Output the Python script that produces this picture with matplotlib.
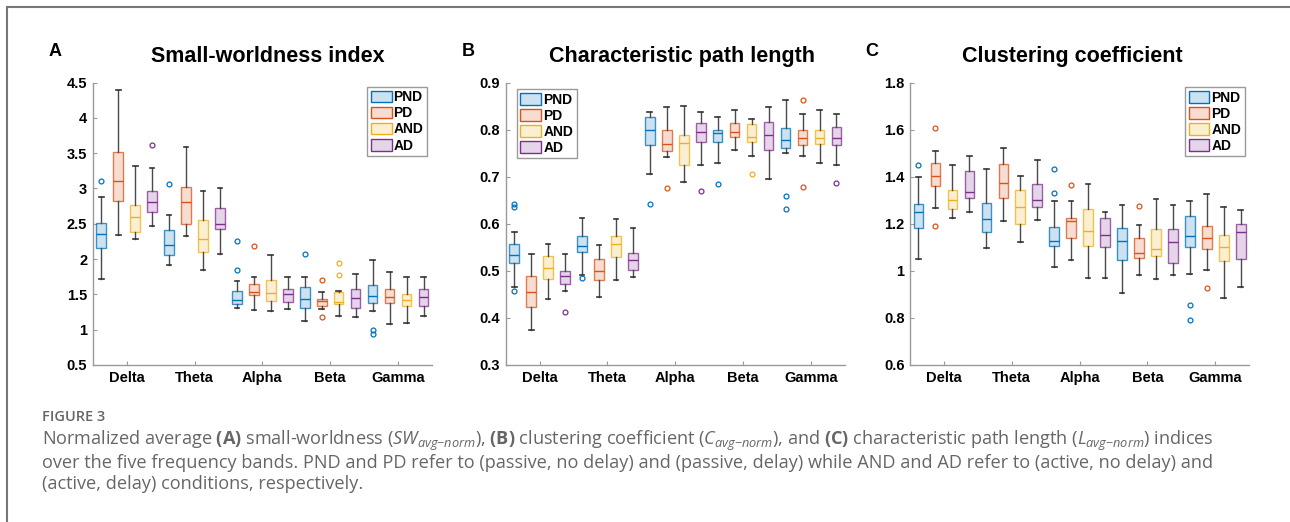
import matplotlib
matplotlib.use("Agg")
import matplotlib.pyplot as plt
from matplotlib.patches import Patch
from matplotlib.lines import Line2D
from matplotlib.colors import to_rgba

plt.rcParams["font.family"] = ["Liberation Sans", "DejaVu Sans"]
plt.rcParams["mathtext.fontset"] = "custom"
plt.rcParams["mathtext.rm"] = "Open Sans"
plt.rcParams["mathtext.it"] = "Open Sans:italic"
plt.rcParams["mathtext.bf"] = "Open Sans:bold"

# Bandas y condiciones
bands = ["Delta", "Theta", "Alpha", "Beta", "Gamma"]
conditions = ["PND", "PD", "AND", "AD"]
colors = ["#0072BD", "#D95319", "#EDB120", "#7E2F8E"]

# (A) Small-worldness: una fila por banda, columnas PND, PD, AND, AD
sw_whislo = [[1.72, 2.34, 2.29, 2.47], [1.92, 2.33, 1.85, 2.07], [1.31, 1.28, 1.26, 1.29],
             [1.13, 1.30, 1.20, 1.18], [1.26, 1.08, 1.10, 1.19]]
sw_q1 = [[2.16, 2.82, 2.39, 2.66], [2.06, 2.50, 2.10, 2.42], [1.37, 1.49, 1.41, 1.39],
         [1.31, 1.34, 1.36, 1.31], [1.38, 1.38, 1.34, 1.34]]
sw_med = [[2.36, 3.10, 2.60, 2.81], [2.20, 2.81, 2.29, 2.50], [1.42, 1.54, 1.52, 1.50],
          [1.43, 1.40, 1.39, 1.45], [1.47, 1.46, 1.42, 1.46]]
sw_q3 = [[2.51, 3.52, 2.77, 2.96], [2.41, 3.02, 2.55, 2.73], [1.55, 1.65, 1.70, 1.57],
         [1.60, 1.44, 1.53, 1.58], [1.63, 1.58, 1.50, 1.58]]
sw_whishi = [[2.88, 4.40, 3.32, 3.29], [2.62, 3.59, 2.97, 3.01], [1.69, 1.75, 2.06, 1.74],
             [1.75, 1.54, 1.55, 1.79], [1.99, 1.81, 1.75, 1.75]]
sw_fliers = [[[3.11], [], [], [3.62]], [[3.07], [], [], []], [[2.25, 1.85], [2.18], [], []],
             [[2.07], [1.70, 1.18], [1.94, 1.78], []], [[1.00, 0.94], [], [], []]]

# (B) Longitud de camino caracteristica
pl_whislo = [[0.466, 0.374, 0.440, 0.458], [0.492, 0.444, 0.481, 0.487], [0.705, 0.742, 0.689, 0.725],
             [0.730, 0.756, 0.744, 0.695], [0.751, 0.744, 0.729, 0.725]]
pl_q1 = [[0.517, 0.424, 0.483, 0.473], [0.540, 0.480, 0.529, 0.501], [0.768, 0.754, 0.725, 0.774],
         [0.773, 0.785, 0.773, 0.756], [0.760, 0.768, 0.769, 0.768]]
pl_med = [[0.533, 0.456, 0.507, 0.489], [0.553, 0.500, 0.558, 0.523], [0.799, 0.770, 0.771, 0.794],
          [0.792, 0.794, 0.785, 0.788], [0.778, 0.783, 0.782, 0.783]]
pl_q3 = [[0.556, 0.489, 0.532, 0.500], [0.575, 0.526, 0.575, 0.537], [0.826, 0.800, 0.788, 0.814],
         [0.800, 0.814, 0.813, 0.817], [0.804, 0.800, 0.800, 0.806]]
pl_whishi = [[0.583, 0.536, 0.558, 0.536], [0.613, 0.555, 0.611, 0.592], [0.838, 0.848, 0.851, 0.838],
             [0.827, 0.841, 0.822, 0.848], [0.863, 0.833, 0.842, 0.833]]
pl_fliers = [[[0.643, 0.635, 0.458], [], [], [0.412]], [[0.484], [], [], []],
             [[0.643], [0.676], [], [0.669]], [[0.684], [], [0.706], []],
             [[0.659, 0.631], [0.862, 0.679], [], [0.687]]]

# (C) Coeficiente de clustering
cc_whislo = [[1.049, 1.267, 1.225, 1.252], [1.095, 1.210, 1.121, 1.214], [1.015, 1.046, 0.971, 0.969],
             [0.904, 0.981, 0.964, 0.981], [0.987, 1.002, 0.883, 0.930]]
cc_q1 = [[1.183, 1.360, 1.262, 1.308], [1.163, 1.308, 1.199, 1.272], [1.105, 1.138, 1.107, 1.102],
         [1.047, 1.056, 1.063, 1.034], [1.100, 1.092, 1.040, 1.051]]
cc_med = [[1.248, 1.405, 1.303, 1.333], [1.221, 1.375, 1.272, 1.303], [1.128, 1.211, 1.170, 1.153],
          [1.128, 1.077, 1.094, 1.122], [1.146, 1.139, 1.102, 1.167]]
cc_q3 = [[1.284, 1.459, 1.344, 1.426], [1.288, 1.456, 1.344, 1.371], [1.187, 1.223, 1.261, 1.223],
         [1.183, 1.138, 1.179, 1.179], [1.233, 1.190, 1.153, 1.201]]
cc_whishi = [[1.397, 1.508, 1.449, 1.489], [1.431, 1.521, 1.404, 1.473], [1.295, 1.298, 1.370, 1.252],
             [1.278, 1.193, 1.305, 1.278], [1.295, 1.326, 1.271, 1.259]]
cc_fliers = [[[1.449], [1.609, 1.192], [], []], [[], [], [], []], [[1.432, 1.329], [1.364], [], []],
             [[], [1.274], [], []], [[0.853, 0.791], [0.925], [], []]]

offsets = [-0.375, -0.125, 0.125, 0.375]


def draw_panel(ax, whislo, q1, med, q3, whishi, fliers, ylim, yticks, legend_anchor, legend_loc):
    for j, c in enumerate(colors):
        stats = []
        for i in range(len(bands)):
            stats.append(dict(whislo=whislo[i][j], q1=q1[i][j], med=med[i][j],
                              q3=q3[i][j], whishi=whishi[i][j], fliers=fliers[i][j]))
        pos = [i + 1 + offsets[j] for i in range(len(bands))]
        ax.bxp(stats, positions=pos, widths=0.14, patch_artist=True, manage_ticks=False,
               boxprops=dict(facecolor=to_rgba(c, 0.2), edgecolor=to_rgba(c, 0.75), linewidth=1),
               medianprops=dict(color=c, linewidth=1),
               whiskerprops=dict(color="#4a4a4a", linewidth=1),
               capprops=dict(color="#333333", linewidth=1.2),
               flierprops=dict(marker="o", markersize=3.5, markerfacecolor="none",
                               markeredgecolor=c, markeredgewidth=0.9))
    ax.set_xlim(0.5, 5.5)
    ax.set_ylim(*ylim)
    ax.set_xticks(range(1, 6))
    ax.set_xticklabels(bands, fontsize=10.5, fontweight="bold")
    ax.set_yticks(yticks)
    ax.set_yticklabels(["%g" % v for v in yticks], fontsize=10.5, fontweight="bold")
    for s in ["top", "right"]:
        ax.spines[s].set_visible(False)
    for s in ["left", "bottom"]:
        ax.spines[s].set_color("#9a9a9a")
        ax.spines[s].set_linewidth(1)
    ax.tick_params(direction="in", length=3, color="#9a9a9a", pad=4)
    handles = [Patch(facecolor=to_rgba(c, 0.2), edgecolor=c, linewidth=1) for c in colors]
    leg = ax.legend(handles, conditions, loc=legend_loc, bbox_to_anchor=legend_anchor,
                    borderaxespad=0, fancybox=False, framealpha=1, handlelength=1.5,
                    handleheight=0.9, handletextpad=0.15, labelspacing=0.15, borderpad=0.25,
                    prop=dict(weight="bold", size=10))
    leg.get_frame().set_edgecolor("#9a9a9a")
    leg.get_frame().set_linewidth(1)


fig = plt.figure(figsize=(12.9, 5.22), dpi=100)

ax_a = fig.add_axes([0.0719, 0.3008, 0.263, 0.541])
ax_b = fig.add_axes([0.392, 0.3008, 0.263, 0.541])
ax_c = fig.add_axes([0.7054, 0.3008, 0.263, 0.541])

draw_panel(ax_a, sw_whislo, sw_q1, sw_med, sw_q3, sw_whishi, sw_fliers,
           (0.5, 4.5), [0.5, 1, 1.5, 2, 2.5, 3, 3.5, 4, 4.5], (0.985, 0.985), "upper right")
draw_panel(ax_b, pl_whislo, pl_q1, pl_med, pl_q3, pl_whishi, pl_fliers,
           (0.3, 0.9), [0.3, 0.4, 0.5, 0.6, 0.7, 0.8, 0.9], (0.033, 0.977), "upper left")
draw_panel(ax_c, cc_whislo, cc_q1, cc_med, cc_q3, cc_whishi, cc_fliers,
           (0.6, 1.8), [0.6, 0.8, 1, 1.2, 1.4, 1.6, 1.8], (0.987, 0.984), "upper right")

# Letras y titulos
for x, letter in [(0.0426, "A"), (0.3628, "B"), (0.676, "C")]:
    fig.text(x, 0.902, letter, fontsize=13, fontweight="bold", ha="center", va="center")
for x, title in [(0.2078, "Small-worldness index"), (0.5287, "Characteristic path length"),
                 (0.831, "Clustering coefficient")]:
    fig.text(x, 0.8927, title, fontsize=15.5, fontweight="bold", ha="center", va="center")

# Marco exterior
fig.add_artist(Line2D([7 / 1290, 7 / 1290], [0, 1 - 7 / 522], color="#777777", linewidth=1.5))
fig.add_artist(Line2D([7 / 1290, 1], [1 - 7 / 522, 1 - 7 / 522], color="#777777", linewidth=1.5))

# Pie de figura
gris = "#666666"
fig.text(42 / 1290, 1 - 417 / 522, "FIGURE 3", fontsize=10.5, color=gris, family="Open Sans",
         fontweight="semibold", va="center")
linea1 = (r"Normalized average $\mathbf{(A)}$ small-worldness ($SW_{avg{-}norm}$), "
          r"$\mathbf{(B)}$ clustering coefficient ($C_{avg{-}norm}$), and $\mathbf{(C)}$ "
          r"characteristic path length ($L_{avg{-}norm}$) indices")
linea2 = ("over the five frequency bands. PND and PD refer to (passive, no delay) and "
          "(passive, delay) while AND and AD refer to (active, no delay) and")
linea3 = "(active, delay) conditions, respectively."
for y, t in [(441, linea1), (463, linea2), (484, linea3)]:
    fig.text(42 / 1290, 1 - y / 522, t, fontsize=13.1, color=gris, family="Open Sans", va="center")

plt.savefig("out.png", dpi=100)
